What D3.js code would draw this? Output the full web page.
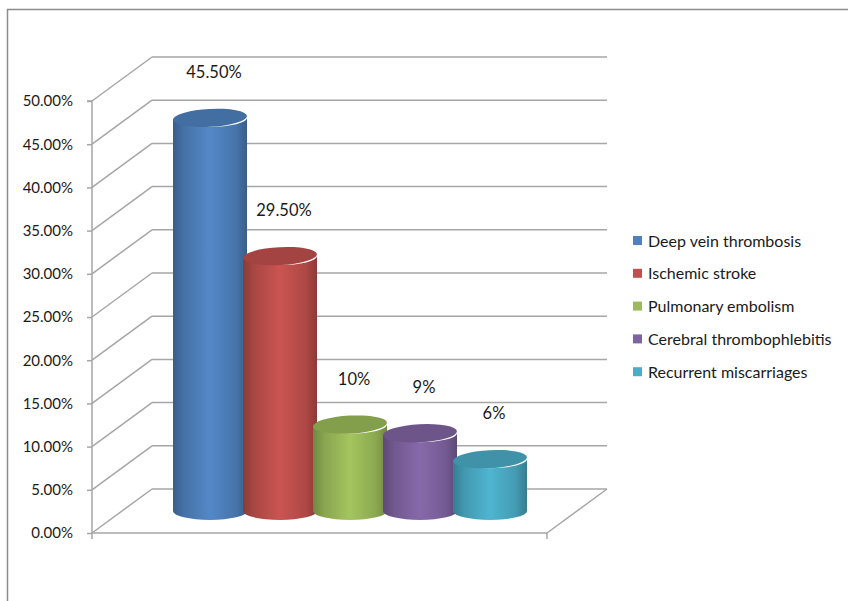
<!DOCTYPE html>
<html>
<head>
<meta charset="utf-8">
<script src="https://cdn.jsdelivr.net/npm/d3@7"></script>
<style>
  body { margin: 0; background: #fff; }
  text { font-family: Lato, "Open Sans", sans-serif; fill: #1a1a1a; }
</style>
</head>
<body>
<script>
// data
var series = ["Deep vein thrombosis", "Ischemic stroke", "Pulmonary embolism", "Cerebral thrombophlebitis", "Recurrent miscarriages"];
var values = [45.5, 29.5, 10, 9, 6];
var labels = ["45.50%", "29.50%", "10%", "9%", "6%"];
var colors = ["#4F81BD", "#C0504D", "#9BBB59", "#8064A2", "#4BACC6"];
var ticks = [0, 5, 10, 15, 20, 25, 30, 35, 40, 45, 50];

var W = 849, H = 601;
var x0 = 92, x1 = 547,   // front floor edge
    dx = 60, dy = -44;   // depth offset to back wall

var svg = d3.select("body").append("svg")
    .attr("width", W)
    .attr("height", H);

// outer frame
svg.append("path")
    .attr("d", "M7.5," + H + "V9.5H848")
    .attr("fill", "none")
    .attr("stroke", "#8c8c8c")
    .attr("stroke-width", 1.5);

var y = d3.scaleLinear()
    .domain([0, 50])
    .range([533, 101]);

var grid = svg.append("g")
    .attr("stroke", "#a6a6a6")
    .attr("stroke-width", 1.5)
    .attr("fill", "none");

// back wall lines + side diagonals
ticks.forEach(function(t) {
  grid.append("line")
      .attr("x1", x0 + dx).attr("x2", x1 + dx)
      .attr("y1", y(t) + dy).attr("y2", y(t) + dy);
  grid.append("line")
      .attr("x1", x0).attr("x2", x0 + dx)
      .attr("y1", y(t)).attr("y2", y(t) + dy);
});
// floor front edge and right side
grid.append("line").attr("x1", x0).attr("x2", x1).attr("y1", y(0)).attr("y2", y(0));
grid.append("line").attr("x1", x1).attr("x2", x1 + dx).attr("y1", y(0)).attr("y2", y(0) + dy);
grid.append("line").attr("x1", x1).attr("x2", x1).attr("y1", y(0)).attr("y2", y(0) + 6);

// y axis
var yAxis = d3.axisLeft(y)
    .tickValues(ticks)
    .tickSize(5)
    .tickFormat(function(d) { return d.toFixed(2) + "%"; });

var ax = svg.append("g")
    .attr("transform", "translate(" + x0 + ",0)")
    .call(yAxis);
ax.select(".domain").attr("stroke", "#a6a6a6").attr("stroke-width", 1.5)
    .attr("d", "M-5," + y(50) + "H0V" + (y(0) + 6));
ax.selectAll(".tick line").attr("stroke", "#a6a6a6").attr("stroke-width", 1.5);
ax.selectAll(".tick text")
    .attr("x", -19)
    .attr("font-size", 15)
    .attr("font-family", "Lato, sans-serif")
    .attr("fill", "#1a1a1a");

// bars (cylinders) at mid depth
var xb = d3.scaleBand()
    .domain(series)
    .range([145, 495])
    .paddingInner(0);
var rx = 37, ry = 9;
var mid = function(v) { return y(v) + dy / 2; };
var cx = function(s) { return xb(s) + xb.bandwidth() / 2 + dx / 2; };

var defs = svg.append("defs");
colors.forEach(function(c, i) {
  var g = defs.append("linearGradient").attr("id", "grad" + i)
      .attr("x1", 0).attr("x2", 1).attr("y1", 0).attr("y2", 0);
  var base = d3.color(c);
  g.append("stop").attr("offset", "0%").attr("stop-color", base.darker(0.9));
  g.append("stop").attr("offset", "15%").attr("stop-color", base.darker(0.35));
  g.append("stop").attr("offset", "50%").attr("stop-color", base.brighter(0.15));
  g.append("stop").attr("offset", "85%").attr("stop-color", base.darker(0.3));
  g.append("stop").attr("offset", "100%").attr("stop-color", base.darker(0.9));
});

var bars = svg.selectAll("g.bar")
    .data(series)
  .enter().append("g")
    .attr("class", "bar");

bars.append("path")
    .attr("d", function(s, i) {
      var c = cx(s), top = mid(values[i]), bot = mid(0);
      return "M" + (c - rx) + "," + top +
        "V" + bot +
        "A" + rx + "," + ry + " 0 0 0 " + (c + rx) + "," + bot +
        "V" + top +
        "A" + rx + "," + ry + " 0 0 1 " + (c - rx) + "," + top + "Z";
    })
    .attr("fill", function(s, i) { return "url(#grad" + i + ")"; });

bars.append("ellipse")
    .attr("cx", function(s) { return cx(s); })
    .attr("cy", function(s, i) { return mid(values[i]); })
    .attr("rx", rx)
    .attr("ry", ry)
    .attr("transform", function(s, i) { return "rotate(-3," + cx(s) + "," + mid(values[i]) + ")"; })
    .attr("fill", function(s, i) { return d3.color(colors[i]).darker(0.45); });

// data labels
svg.selectAll("text.val")
    .data(series)
  .enter().append("text")
    .attr("class", "val")
    .attr("x", function(s) { return cx(s) + 4; })
    .attr("y", function(s, i) { return mid(values[i]) - 40; })
    .attr("text-anchor", "middle")
    .attr("font-size", 16.5)
    .text(function(s, i) { return labels[i]; });

// legend
var leg = svg.selectAll("g.leg")
    .data(series)
  .enter().append("g")
    .attr("class", "leg")
    .attr("transform", function(s, i) { return "translate(633," + (241 + i * 32.8) + ")"; });
leg.append("rect")
    .attr("x", 0).attr("y", -5)
    .attr("width", 9).attr("height", 9)
    .attr("fill", function(s, i) { return colors[i]; });
leg.append("text")
    .attr("x", 15)
    .attr("y", 5.5)
    .attr("font-size", 16)
    .text(function(s) { return s; });
</script>
</body>
</html>
